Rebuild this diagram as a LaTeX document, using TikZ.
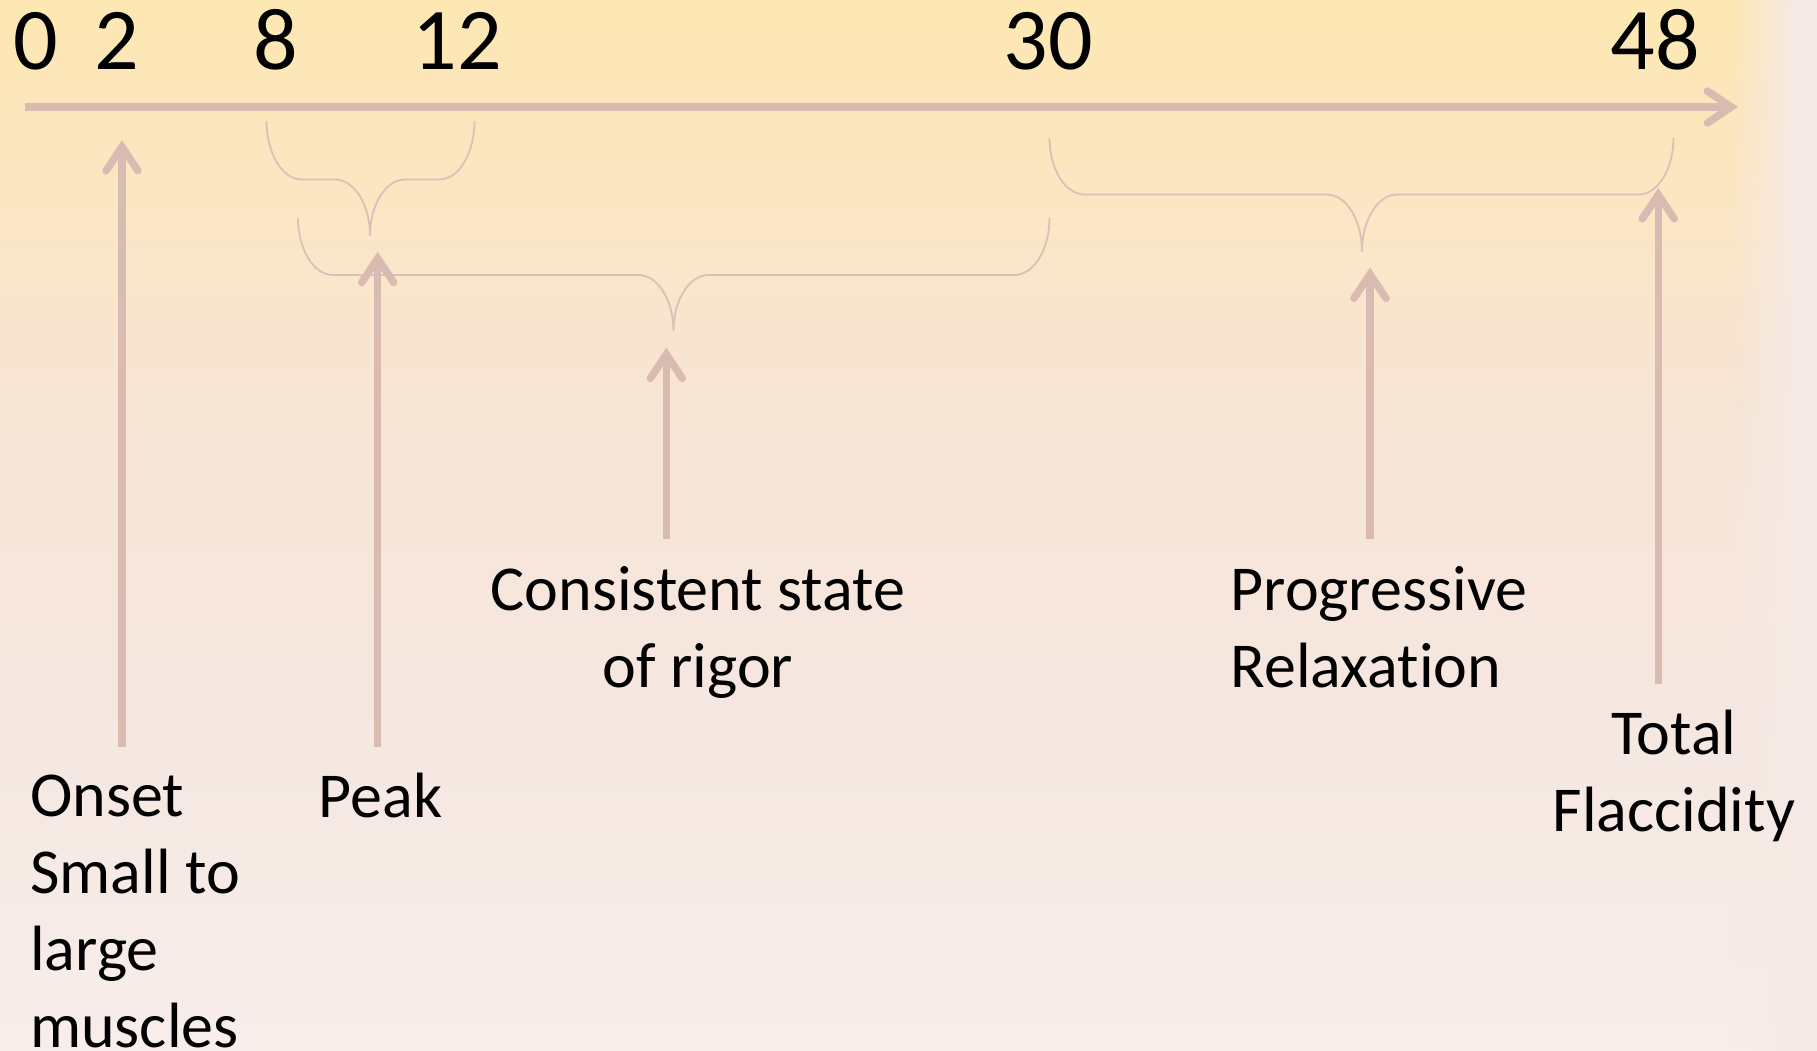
\documentclass[tikz,border=0pt]{standalone}
\usepackage{fontspec}
\setmainfont[Ligatures=NoCommon]{Carlito}
\usetikzlibrary{arrows.meta,fadings}
\definecolor{arrowc}{RGB}{217,187,177}
\definecolor{bracec}{RGB}{219,192,184}
\definecolor{bgtop}{RGB}{253,231,178}
\definecolor{bgA}{RGB}{252,230,192}
\definecolor{bgB}{RGB}{247,229,214}
\definecolor{bgC}{RGB}{245,231,224}
\definecolor{bgbot}{RGB}{247,237,234}
\definecolor{bgright}{RGB}{246,234,230}
\newcommand\tlbrace[6]{% left x, right x, tip x, top y, flat y, tip y
  \draw[bracel] (#1,#4) .. controls (#1,{#4+0.55*(#5-#4)}) and ({#1+0.45*35},#5) .. ({#1+35},#5)
    -- ({#3-35},#5) .. controls ({#3-0.45*35},#5) and (#3,{#5+0.45*(#6-#5)}) .. (#3,#6)
    .. controls (#3,{#5+0.45*(#6-#5)}) and ({#3+0.45*35},#5) .. ({#3+35},#5)
    -- ({#2-35},#5) .. controls ({#2-0.45*35},#5) and (#2,{#4+0.55*(#5-#4)}) .. (#2,#4);}
\begin{document}
\begin{tikzpicture}[x=1pt,y=-1pt,
  arr/.style={draw=arrowc, line width=7.5pt, -{Straight Barb[length=24pt,width=32pt,line cap=round]}},
  bracel/.style={draw=bracec, line width=1.8pt},
  num/.style={font=\fontsize{88}{100}\selectfont, anchor=base, inner sep=0pt},
  lbl/.style={font=\fontsize{64}{77}\selectfont, inner sep=0pt}]
\useasboundingbox (0,0) rectangle (1817,1050);
% background
\shade[top color=bgtop, bottom color=bgA] (0,0) rectangle (1817,161);
\shade[top color=bgA, bottom color=bgB] (0,160) rectangle (1817,421);
\shade[top color=bgB, bottom color=bgC] (0,420) rectangle (1817,701);
\shade[top color=bgC, bottom color=bgbot] (0,700) rectangle (1817,1050);
\fill[bgright, path fading=west] (1730,0) rectangle (1800,1050);
\fill[bgright] (1795,0) rectangle (1817,1050);
% timeline
\coordinate (t0) at (25,107);
\coordinate (t1) at (1738,107);
\draw[arr] (t0) -- (t1);
% numbers
\node[num] (n0) at (35.4,69.3) {0};
\node[num] (n2) at (116.8,69.3) {2};
\node[num] (n8) at (275.5,69.3) {8};
\node[num] (n12) at (457.3,69.3) {12};
\node[num] (n30) at (1048.2,69.3) {30};
\node[num] (n48) at (1655.5,69.3) {48};
% braces
\tlbrace{266.5}{474.5}{370}{121}{179.5}{235.5}
\tlbrace{298}{1049.5}{673.5}{218}{275}{331}
\tlbrace{1049.5}{1673.5}{1362}{138}{194.5}{251.5}
% arrows
\coordinate (aOb) at (122,746.7);   \coordinate (aOt) at (122,140);
\coordinate (aPb) at (377.7,746.7); \coordinate (aPt) at (377.7,251.7);
\coordinate (aCb) at (666.3,538.8); \coordinate (aCt) at (666.3,347.6);
\coordinate (aRb) at (1370,538.8);  \coordinate (aRt) at (1370,267.5);
\coordinate (aFb) at (1658.3,683.5);\coordinate (aFt) at (1658.3,188);
\draw[arr] (aOb) -- (aOt);
\draw[arr] (aPb) -- (aPt);
\draw[arr] (aCb) -- (aCt);
\draw[arr] (aRb) -- (aRt);
\draw[arr] (aFb) -- (aFt);
% labels (multi-line nodes: base = last line's baseline)
\node[lbl, anchor=base west, align=left] (onset) at (30,1047) {Onset\\Small to\\large\\muscles};
\node[lbl, anchor=base west] (peak) at (318.5,817) {Peak};
\node[lbl, anchor=base, align=center] (rigor) at (698,687) {Consistent state\\of rigor};
\node[lbl, anchor=base west, align=left] (relax) at (1230.5,687) {Progressive\\Relaxation};
\node[lbl, anchor=base, align=center] (flacc) at (1674,831.5) {Total\\Flaccidity};
\end{tikzpicture}
\end{document}
